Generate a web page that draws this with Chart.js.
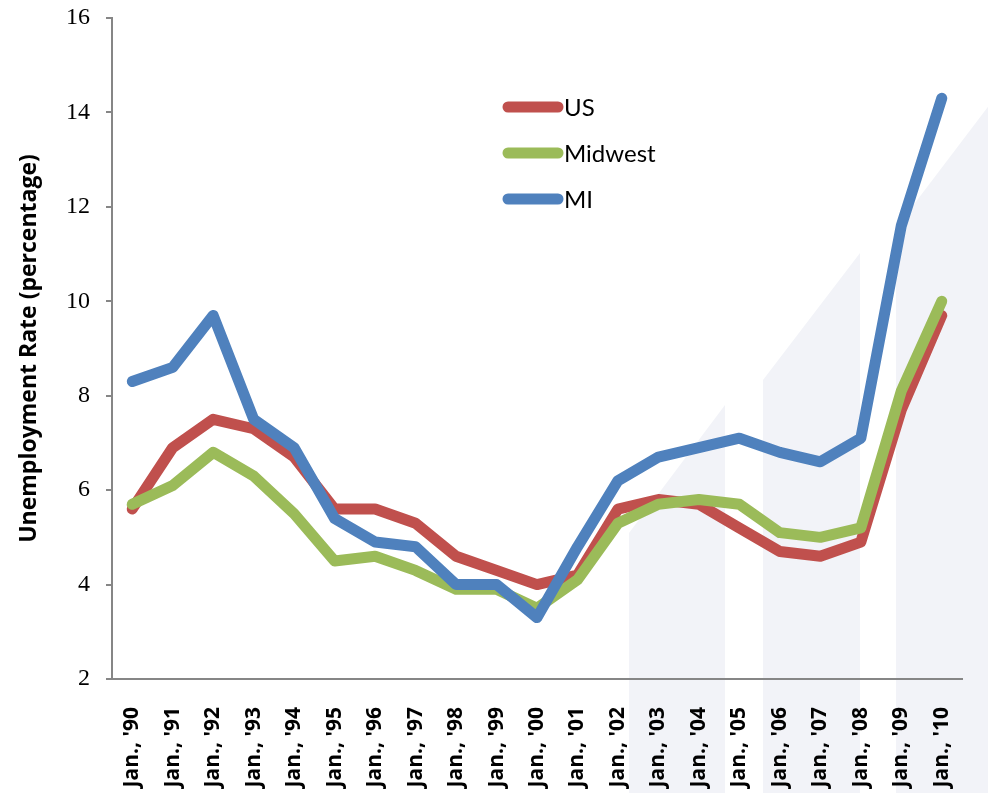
<!DOCTYPE html>
<html>
<head>
<meta charset="utf-8">
<script src="https://cdn.jsdelivr.net/npm/chart.js@4/dist/chart.umd.min.js"></script>
<style>
  html, body { margin: 0; padding: 0; background: #fff; overflow: hidden; }
  #wrap { width: 988px; height: 793px; }
</style>
</head>
<body>
<div id="wrap"><canvas id="rateChart"></canvas></div>
<script>
// January unemployment rates, 1990-2010
const years = ['Jan., \'90', 'Jan., \'91', 'Jan., \'92', 'Jan., \'93', 'Jan., \'94', 'Jan., \'95', 'Jan., \'96',
               'Jan., \'97', 'Jan., \'98', 'Jan., \'99', 'Jan., \'00', 'Jan., \'01', 'Jan., \'02', 'Jan., \'03',
               'Jan., \'04', 'Jan., \'05', 'Jan., \'06', 'Jan., \'07', 'Jan., \'08', 'Jan., \'09', 'Jan., \'10'];
const usRate       = [5.6, 6.9, 7.5, 7.3, 6.7, 5.6, 5.6, 5.3, 4.6, 4.3, 4.0, 4.2, 5.6, 5.8, 5.7, 5.2, 4.7, 4.6, 4.9, 7.7, 9.7];
const midwestRate  = [5.7, 6.1, 6.8, 6.3, 5.5, 4.5, 4.6, 4.3, 3.9, 3.9, 3.5, 4.1, 5.3, 5.7, 5.8, 5.7, 5.1, 5.0, 5.2, 8.1, 10.0];
const michiganRate = [8.3, 8.6, 9.7, 7.5, 6.9, 5.4, 4.9, 4.8, 4.0, 4.0, 3.3, 4.8, 6.2, 6.7, 6.9, 7.1, 6.8, 6.6, 7.1, 11.6, 14.3];
const yTicks = [2, 4, 6, 8, 10, 12, 14, 16];

const seriesNames  = ['US', 'Midwest', 'MI'];
const seriesColors = ['#C0504D', '#9BBB59', '#4F81BD'];

// pale rising bars behind the plot
const backdrop = {
    id: 'backdrop',
    beforeDraw(chart) {
        const c = chart.ctx;
        const h = chart.height;
        c.save();
        c.fillStyle = '#F2F3F8';
        const bars = [
            [629, 725, 533, 405],
            [763, 860, 380, 253],
            [896, 1000, 228, 91]
        ];
        bars.forEach(([x0, x1, yl, yr]) => {
            c.beginPath();
            c.moveTo(x0, h);
            c.lineTo(x0, yl);
            c.lineTo(x1, yr);
            c.lineTo(x1, h);
            c.closePath();
            c.fill();
        });
        c.restore();
    }
};

// legend drawn inside the plot area
const innerLegend = {
    id: 'innerLegend',
    afterDatasetsDraw(chart) {
        const c = chart.ctx;
        const x0 = chart.chartArea.left + 391;
        const y0 = 107;
        c.save();
        c.lineCap = 'round';
        c.lineWidth = 11;
        c.font = '24px Lato';
        c.textBaseline = 'middle';
        seriesNames.forEach((name, i) => {
            const y = y0 + i * 46;
            c.strokeStyle = seriesColors[i];
            c.beginPath();
            c.moveTo(x0 + 5, y);
            c.lineTo(x0 + 55, y);
            c.stroke();
            c.fillStyle = '#000';
            c.fillText(name, x0 + 61, y + 1);
        });
        c.restore();
    }
};

const rateData = [usRate, midwestRate, michiganRate];

const ctx = document.getElementById('rateChart').getContext('2d');
const rateChart = new Chart(ctx, {
    type: 'line',
    data: {
        labels: years,
        datasets: seriesNames.map((name, i) => ({
            label: name,
            data: rateData[i],
            borderColor: seriesColors[i],
            backgroundColor: seriesColors[i],
            borderWidth: 11,
            borderCapStyle: 'round',
            borderJoinStyle: 'round',
            pointRadius: 0,
            tension: 0,
            order: 3 - i
        }))
    },
    options: {
        responsive: true,
        maintainAspectRatio: false,
        animation: false,
        layout: { padding: { top: 18, right: 26, left: 0, bottom: 0 } },
        plugins: {
            legend: { display: false },
            tooltip: { enabled: false }
        },
        scales: {
            x: {
                offset: true,
                grid: { display: false },
                border: { display: true, color: '#868686', width: 2 },
                ticks: {
                    color: '#000',
                    font: { family: 'Open Sans', size: 21, weight: 'bold' },
                    minRotation: 90,
                    maxRotation: 90,
                    autoSkip: false,
                    padding: 20
                },
                afterFit: (scale) => { scale.height = 114; }
            },
            y: {
                min: 2,
                max: 16,
                afterBuildTicks: (scale) => { scale.ticks = yTicks.map(v => ({ value: v })); },
                grid: { drawOnChartArea: false, drawTicks: true, tickLength: 6, color: '#868686', lineWidth: 2 },
                border: { display: true, color: '#868686', width: 2 },
                ticks: {
                    color: '#000',
                    font: { family: 'Liberation Serif', size: 24 },
                    padding: 16
                },
                title: {
                    display: true,
                    text: 'Unemployment Rate (percentage)',
                    color: '#000',
                    font: { family: 'Open Sans', size: 23, weight: 'bold' },
                    padding: { top: 16, bottom: 0 }
                },
                afterFit: (scale) => {
                    scale.width = 112;
                    scale.paddingTop = 0;
                    scale.paddingBottom = 0;
                }
            }
        }
    },
    plugins: [backdrop, innerLegend]
});
</script>
</body>
</html>
